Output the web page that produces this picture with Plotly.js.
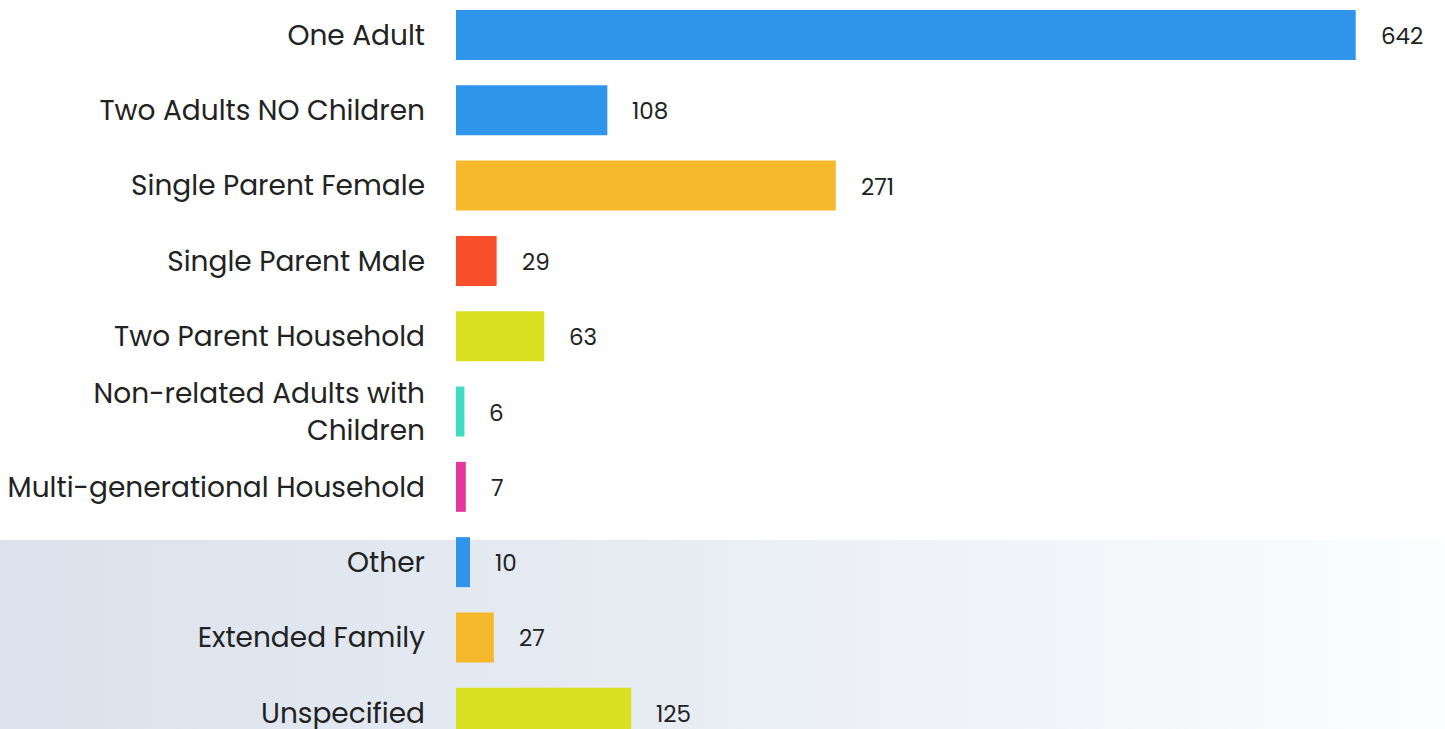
<!DOCTYPE html>
<html>
<head>
<meta charset="utf-8">
<script src="https://cdn.plot.ly/plotly-3.0.1.min.js"></script>
<style>
  html, body { margin: 0; padding: 0; width: 1445px; height: 729px; overflow: hidden; background: #ffffff; }
  #bg { position: absolute; left: 0; top: 540px; width: 1445px; height: 189px;
        background: linear-gradient(to right, #dbe2ed 0%, #e7ecf3 45%, #fcfdfe 100%); }
  #chart { position: absolute; left: 0; top: 0; width: 1445px; height: 729px; }
</style>
</head>
<body>
<div id="bg"></div>
<div id="chart"></div>
<script>
const categories = [
  "One Adult",
  "Two Adults NO Children",
  "Single Parent Female",
  "Single Parent Male",
  "Two Parent Household",
  "Non-related Adults with<br>Children",
  "Multi-generational Household",
  "Other",
  "Extended Family",
  "Unspecified"
];
const values = [642, 108, 271, 29, 63, 6, 7, 10, 27, 125];
const barColors = ["#2f95ea", "#2f95ea", "#f5b92b", "#f84f2b", "#d8e020", "#3ddcc3", "#e5389a", "#2f95ea", "#f5b92b", "#d8e020"];

const FONT = "Poppins, Inter, 'Open Sans', sans-serif";

const trace = {
  type: "bar",
  orientation: "h",
  y: categories,
  x: values,
  marker: { color: barColors, line: { width: 0 } },
  hoverinfo: "x+y",
  showlegend: false
};

const annotations = values.map((v, i) => ({
  x: v, y: categories[i], xref: "x", yref: "y",
  text: String(v), showarrow: false,
  xanchor: "left", yanchor: "middle", xshift: 23, yshift: -1,
  font: { family: FONT, size: 23, color: "#222222" }
}));

const layout = {
  width: 1445, height: 729,
  margin: { l: 456, r: 8, t: 0, b: 0, pad: 0 },
  paper_bgcolor: "rgba(0,0,0,0)",
  plot_bgcolor: "rgba(0,0,0,0)",
  bargap: 0.336,
  xaxis: { range: [0, 700], visible: false, showgrid: false, zeroline: false, fixedrange: true },
  yaxis: {
    type: "category",
    range: [9.216, -0.465],
    showgrid: false, zeroline: false, showline: false,
    ticks: "", ticklabelstandoff: 30,
    tickfont: { family: FONT, size: 28, color: "#222222" },
    fixedrange: true
  },
  annotations: annotations,
  font: { family: FONT }
};

Plotly.newPlot("chart", [trace], layout, { displayModeBar: false });
</script>
</body>
</html>
